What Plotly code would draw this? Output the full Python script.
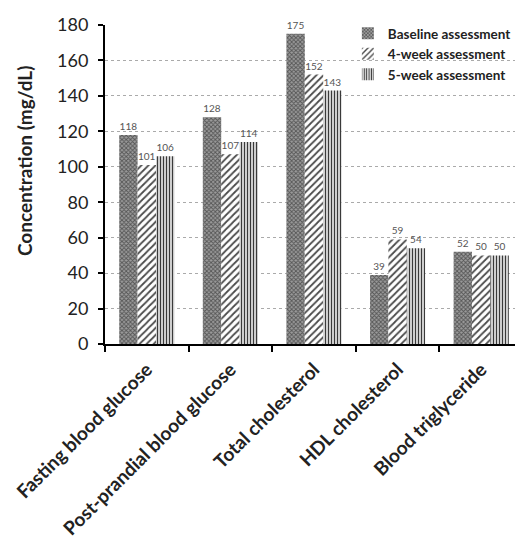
import plotly.graph_objects as go

categories = ["Fasting blood glucose", "Post-prandial blood glucose", "Total cholesterol",
              "HDL cholesterol", "Blood triglyceride"]
baseline = [118, 128, 175, 39, 52]
week4 = [101, 107, 152, 59, 50]
week5 = [106, 114, 143, 54, 50]
series_names = ["Baseline assessment", "4-week assessment", "5-week assessment"]
y_ticks = [0, 20, 40, 60, 80, 100, 120, 140, 160, 180]
y_title = "Concentration (mg/dL)"

FONT = "Lato"

fig = go.Figure()
styles = [
    dict(shape="x", bgcolor="#9c9c9c", fgcolor="#555555", size=3, solidity=0.5),
    dict(shape="/", bgcolor="#ffffff", fgcolor="#4a4a4a", size=5, solidity=0.35),
    dict(shape="|", bgcolor="#ffffff", fgcolor="#3a3a3a", size=3, solidity=0.5),
]
for name, vals, st in zip(series_names, [baseline, week4, week5], styles):
    fig.add_trace(go.Bar(
        name=name, x=categories, y=vals,
        text=[str(v) for v in vals], textposition="outside",
        textfont=dict(family=FONT, size=10, color="#555555"),
        marker=dict(color=st["bgcolor"], line=dict(width=0),
                    pattern=dict(shape=st["shape"], fgcolor=st["fgcolor"],
                                 bgcolor=st["bgcolor"], size=st["size"],
                                 solidity=st["solidity"], fillmode="replace")),
        cliponaxis=False,
    ))

fig.update_layout(
    width=523, height=541,
    margin=dict(l=97, r=8, t=17, b=205, autoexpand=False),
    paper_bgcolor="white", plot_bgcolor="white",
    barmode="group", bargap=0.34, bargroupgap=0,
    font=dict(family=FONT, color="#222222"),
    showlegend=True,
    legend=dict(x=0.581, y=1.022, xanchor="left", yanchor="top",
                bgcolor="rgba(0,0,0,0)", font=dict(family=FONT, size=13.5, color="#222222", weight="bold"),
                itemwidth=30, tracegroupgap=0),
    uniformtext=dict(minsize=8, mode="show"),
    annotations=[dict(text=y_title, xref="paper", yref="paper", x=-0.191, y=0.574,
                      xanchor="center", yanchor="middle", textangle=-90, showarrow=False,
                      font=dict(family=FONT, size=19, color="#222222", weight="bold"))],
)
fig.update_yaxes(
    range=[0, 180], tickvals=y_ticks, ticks="outside", ticklen=5, tickwidth=2, tickcolor="black",
    showline=True, linewidth=2, linecolor="black",
    showgrid=True, gridcolor="#aaaaaa", griddash="dot", gridwidth=1,
    tickfont=dict(family=FONT, size=18, color="#222222"), ticklabelstandoff=6,
    zeroline=False, automargin=False,
)
fig.update_xaxes(
    tickangle=-45, ticks="outside", tickson="boundaries", ticklen=6, tickwidth=2, tickcolor="black",
    showline=True, linewidth=2, linecolor="black",
    tickfont=dict(family=FONT, size=19, color="#222222", weight="bold"), ticklabelstandoff=5,
    automargin=False,
)

fig.write_html("out.html")
